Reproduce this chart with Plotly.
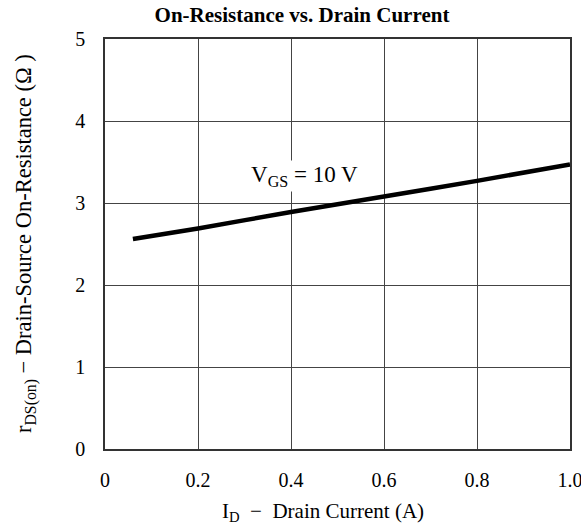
import plotly.graph_objects as go

current_a = [0.06, 0.2, 0.4, 0.6, 0.8, 1.0]
rds_on = [2.56, 2.69, 2.89, 3.08, 3.27, 3.47]
x_ticks = [0, 0.2, 0.4, 0.6, 0.8, 1.0]
x_tick_labels = ["0", "0.2", "0.4", "0.6", "0.8", "1.0"]
y_ticks = [0, 1, 2, 3, 4, 5]

font = "Liberation Serif, Times New Roman, serif"
W, H = 581, 529
L, R, T, B = 105, 11, 39, 80

fig = go.Figure()
fig.add_trace(go.Scatter(x=current_a, y=rds_on, mode="lines",
                         line=dict(color="black", width=4.5, shape="spline", smoothing=0.6),
                         showlegend=False, hoverinfo="skip"))

fig.add_annotation(x=0.428, y=3.33, xref="x", yref="y",
                   text="V<sub>GS</sub> = 10 V", showarrow=False,
                   font=dict(family=font, size=23, color="black"),
                   bgcolor="white", borderpad=1)

pw = W - L - R
ph = H - T - B
# x-axis title
fig.add_annotation(x=(323 - L) / pw, y=-(512 - (H - B)) / ph, xref="paper", yref="paper",
                   text="I<sub>D</sub>  −  Drain Current (A)", showarrow=False,
                   xanchor="center", yanchor="middle",
                   font=dict(family=font, size=21, color="black"))
# y-axis title
fig.add_annotation(x=-(L - 25) / pw, y=0.5, xref="paper", yref="paper",
                   text="r<sub>DS(on)</sub> − Drain-Source On-Resistance (Ω )", showarrow=False,
                   textangle=-90, xanchor="center", yanchor="middle",
                   font=dict(family=font, size=22.5, color="black"))

fig.update_layout(
    width=W, height=H,
    margin=dict(l=L, r=R, t=T, b=B, autoexpand=False),
    paper_bgcolor="white", plot_bgcolor="white",
    title=dict(text="<b>On-Resistance vs. Drain Current</b>", x=302 / W, xanchor="center",
               y=1 - 15 / H, yanchor="middle", font=dict(family=font, size=21, color="black")),
    font=dict(family=font, color="black"),
    xaxis=dict(range=[0, 1.0], tickvals=x_ticks, ticktext=x_tick_labels,
               showgrid=True, gridcolor="#444444", gridwidth=1,
               showline=True, linecolor="#333333", linewidth=1.5, mirror=True,
               zeroline=False, ticks="", ticklabelstandoff=12, automargin=False,
               ticklabeloverflow="allow",
               tickfont=dict(family=font, size=20, color="black")),
    yaxis=dict(range=[0, 5], tickvals=y_ticks,
               showgrid=True, gridcolor="#444444", gridwidth=1,
               showline=True, linecolor="#333333", linewidth=1.5, mirror=True,
               zeroline=False, ticks="", ticklabelstandoff=14, automargin=False,
               ticklabeloverflow="allow",
               tickfont=dict(family=font, size=20, color="black")),
)

fig.write_html("out.html", config={"displayModeBar": False},
               post_script="document.body.style.margin='0';document.body.style.padding='0';document.body.style.overflow='hidden';")
